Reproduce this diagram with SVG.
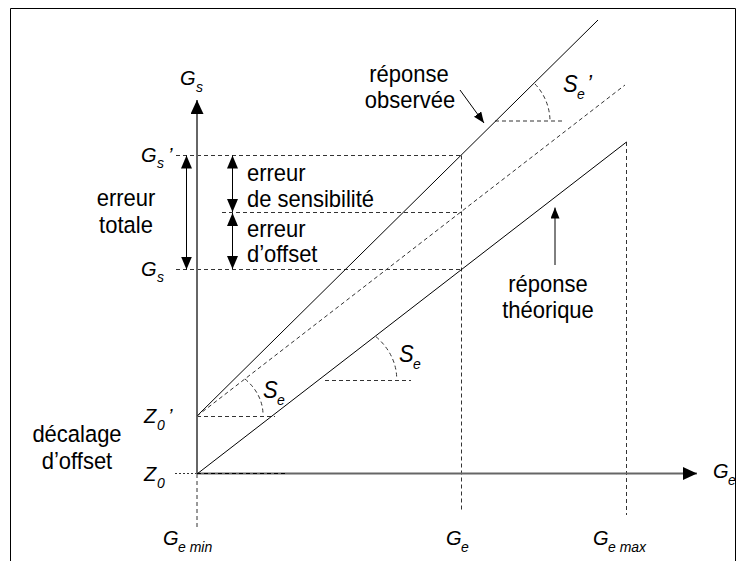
<svg xmlns="http://www.w3.org/2000/svg" width="745" height="561" viewBox="0 0 745 561">
<style>
.frame{fill:none;stroke:#000;stroke-width:1}
.axis{stroke:#666;stroke-width:2;fill:none}
.ln{stroke:#000;stroke-width:1;fill:none}
.dash{stroke:#333;stroke-width:1;stroke-dasharray:4 3;fill:none}
.dot{stroke:#333;stroke-width:1;stroke-dasharray:2 2;fill:none}
.t{font-family:"Liberation Sans",Arial,Helvetica,sans-serif;font-size:22px;fill:#000}
.lab{font-family:"Liberation Sans",Arial,Helvetica,sans-serif;font-style:italic;font-size:20px;fill:#000}
.big{font-family:"Liberation Sans",Arial,Helvetica,sans-serif;font-style:italic;font-size:22px;fill:#000}
.sub{font-family:"Liberation Sans",Arial,Helvetica,sans-serif;font-style:italic;font-size:14px;fill:#000}
</style>
<defs>
<marker id="ax" viewBox="0 0 14 13" refX="14" refY="6.5" markerWidth="14" markerHeight="13" markerUnits="userSpaceOnUse" orient="auto-start-reverse">
<path d="M0,0 L14,6.5 L0,13 Z" fill="#000"/>
</marker>
<marker id="ah" viewBox="0 0 13 11" refX="13" refY="5.5" markerWidth="13" markerHeight="11" markerUnits="userSpaceOnUse" orient="auto-start-reverse">
<path d="M0,0 L13,5.5 L0,11 Z" fill="#000"/>
</marker>
<marker id="sm" viewBox="0 0 11 9" refX="11" refY="4.5" markerWidth="11" markerHeight="9" markerUnits="userSpaceOnUse" orient="auto-start-reverse">
<path d="M0,0 L11,4.5 L0,9 Z" fill="#000"/>
</marker>
</defs>
<rect width="745" height="561" fill="#fff"/>
<path class="frame" d="M10.5,561 L10.5,8.5 L735.5,8.5 L735.5,561"/>

<g id="guides">
<line class="dash" x1="176" y1="155.5" x2="461.5" y2="155.5"/>
<line class="dash" x1="222" y1="212.5" x2="461.5" y2="212.5"/>
<line class="dash" x1="176" y1="269.5" x2="461.5" y2="269.5"/>
<line class="dash" x1="461.5" y1="155.5" x2="461.5" y2="510"/>
<line class="dash" x1="626.5" y1="142" x2="626.5" y2="515"/>
<line class="dash" x1="197" y1="474" x2="197" y2="530"/>
<line class="dot" x1="175" y1="473.5" x2="197" y2="473.5"/>
<line class="dash" x1="197" y1="416.5" x2="275" y2="416.5"/>
<line class="dash" x1="325" y1="380.5" x2="411" y2="380.5"/>
<line class="dash" x1="495" y1="121" x2="562" y2="121"/>
<path class="dash" d="M245,379 A66,52 0 0 1 263,415.5"/>
<path class="dash" d="M376,336.7 A78,62 0 0 1 396.7,379"/>
<path class="dash" d="M535,84 A54.4,54.4 0 0 1 550,120.5"/>
</g>

<g id="axes">
<line class="axis" x1="197" y1="474" x2="197" y2="100" marker-end="url(#ax)"/>
<line class="axis" x1="197" y1="473.5" x2="697" y2="473.5" marker-end="url(#ax)"/>
<line class="dash" x1="197" y1="473.5" x2="285" y2="473.5" style="stroke:#000"/>
</g>

<g id="lines">
<line class="ln" x1="197" y1="416" x2="598" y2="20"/>
<line class="dash" x1="197" y1="416" x2="625" y2="85"/>
<line class="ln" x1="197" y1="474" x2="626.5" y2="142"/>
</g>

<g id="connectors">
<line class="ln" x1="186.5" y1="155.5" x2="186.5" y2="269.5" marker-start="url(#ah)" marker-end="url(#ah)"/>
<line class="ln" x1="232.5" y1="155.5" x2="232.5" y2="212" marker-start="url(#ah)" marker-end="url(#ah)"/>
<line class="ln" x1="232.5" y1="213" x2="232.5" y2="269" marker-start="url(#ah)" marker-end="url(#ah)"/>
<line class="ln" x1="460" y1="90" x2="484" y2="123" marker-end="url(#sm)"/>
<line class="ln" x1="555" y1="265" x2="555" y2="207.5" marker-end="url(#sm)"/>
</g>

<g transform="scale(1,1.08)">
<g id="text-observee">
<text class="t" x="409" y="75.93" text-anchor="middle">réponse</text>
<text class="t" x="410" y="100" text-anchor="middle">observée</text>
</g>
<g id="text-theorique">
<text class="t" x="548" y="270.37" text-anchor="middle">réponse</text>
<text class="t" x="548" y="294" text-anchor="middle">théorique</text>
</g>
<g id="text-totale">
<text class="t" x="126" y="191.2" text-anchor="middle">erreur</text>
<text class="t" x="126" y="215.7" text-anchor="middle">totale</text>
</g>
<g id="text-sensibilite">
<text class="t" x="247" y="167.3">erreur</text>
<text class="t" x="247" y="191.9">de sensibilité</text>
</g>
<g id="text-offset">
<text class="t" x="247" y="219.2">erreur</text>
<text class="t" x="247" y="243">d’offset</text>
</g>
<g id="text-decalage">
<text class="t" x="77" y="409.7" text-anchor="middle">décalage</text>
<text class="t" x="77" y="434" text-anchor="middle">d’offset</text>
</g>
</g>

<g id="labels">
<text class="lab" x="180" y="85">G</text><text class="sub" x="196" y="92">s</text>
<text class="lab" x="141" y="162">G</text><text class="sub" x="157" y="168">s</text><text class="lab" x="168" y="162">’</text>
<text class="lab" x="141" y="276">G</text><text class="sub" x="157" y="282">s</text>
<text class="lab" x="144" y="423">Z</text><text class="sub" x="157" y="430">0</text><text class="lab" x="168" y="423">’</text>
<text class="lab" x="144" y="481">Z</text><text class="sub" x="157" y="488">0</text>
<text class="lab" x="713" y="478">G</text><text class="sub" x="728" y="485">e</text>
<text class="lab" x="163" y="545">G</text><text class="sub" x="178" y="552">e min</text>
<text class="lab" x="446" y="545">G</text><text class="sub" x="461" y="552">e</text>
<text class="lab" x="593" y="545">G</text><text class="sub" x="608" y="552">e max</text>
<g transform="scale(1,1.1)">
<text class="big" x="563" y="83.64">S</text><text class="sub" x="577" y="90">e</text><text class="big" x="587" y="83.64">’</text>
<text class="big" x="399" y="329.09">S</text><text class="sub" x="413" y="335.45">e</text>
<text class="big" x="263" y="361.82">S</text><text class="sub" x="277" y="368.18">e</text>
</g>
</g>
</svg>
